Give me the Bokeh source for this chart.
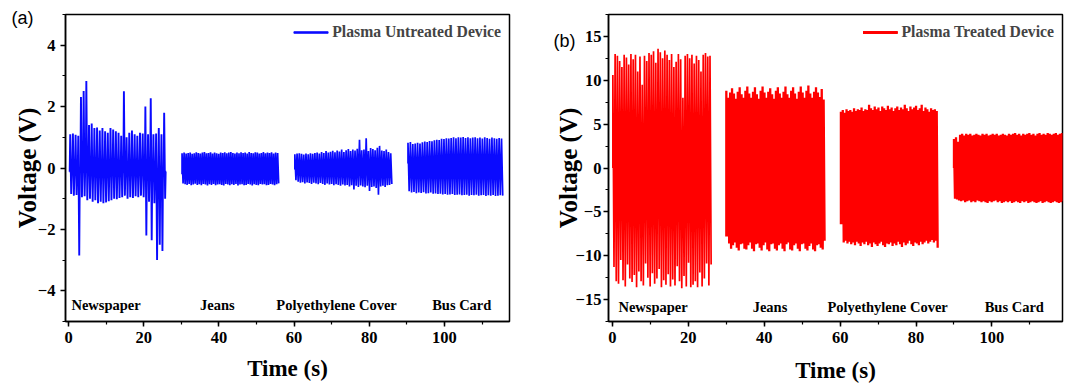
import numpy as np
from bokeh.plotting import figure
from bokeh.layouts import row
from bokeh.models import Range1d, SingleIntervalTicker, FixedTicker, LinearAxis, ColumnDataSource
from bokeh.core.properties import value
from bokeh.embed import file_html
from bokeh.resources import INLINE

# ---------------- data ----------------
materials = ["Newspaper", "Jeans", "Polyethylene Cover", "Bus Card"]

# (a) plasma untreated device: segment time windows (s), start level and per-pulse peaks (V)
untreated_t_start = [0.3, 30.2, 60.2, 90.3]
untreated_t_end = [26.0, 55.9, 86.0, 115.5]
untreated_base = [-0.12, -0.20, -0.05, 0.15]

untreated_news_max = [1.10, 1.12, 1.08, 1.05, 2.31, 2.51, 2.83, 1.40, 1.45, 1.30, 1.32, 1.22,
                      1.30, 1.20, 1.15, 1.30, 1.25, 1.20, 1.15, 1.05, 2.50, 1.00, 1.15, 1.22,
                      1.10, 1.05, 1.15, 1.12, 2.00, 1.10, 2.27, 1.10, 1.12, 1.30, 1.10, 1.80]
untreated_news_min = [-0.85, -0.90, -0.88, -2.85, -0.95, -0.92, -1.05, -1.00, -1.10, -1.05, -1.15, -1.10,
                      -1.15, -1.12, -1.08, -1.05, -1.00, -1.02, -0.98, -0.95, -0.90, -1.00, -0.95, -0.98,
                      -0.92, -0.95, -0.90, -0.95, -2.20, -1.10, -2.35, -1.15, -3.00, -2.50, -2.70, -1.00]

untreated_jeans_max = [0.48, 0.50, 0.47, 0.49, 0.50, 0.46, 0.48, 0.51, 0.49, 0.47, 0.50, 0.52,
                       0.48, 0.49, 0.51, 0.47, 0.50, 0.48, 0.46, 0.50, 0.49, 0.51, 0.48, 0.50,
                       0.52, 0.49, 0.47, 0.50, 0.48, 0.51, 0.49, 0.50, 0.47, 0.52, 0.49, 0.48,
                       0.51, 0.50, 0.47, 0.49, 0.52, 0.48, 0.50, 0.49, 0.51, 0.47, 0.50, 0.49]
untreated_jeans_min = [-0.50, -0.53, -0.55, -0.52, -0.56, -0.54, -0.51, -0.55, -0.53, -0.56, -0.52, -0.54,
                       -0.57, -0.53, -0.55, -0.52, -0.56, -0.54, -0.53, -0.55, -0.57, -0.52, -0.54, -0.56,
                       -0.53, -0.55, -0.52, -0.57, -0.54, -0.53, -0.56, -0.55, -0.52, -0.54, -0.57, -0.53,
                       -0.55, -0.56, -0.52, -0.54, -0.53, -0.56, -0.55, -0.52, -0.54, -0.56, -0.53, -0.50]

untreated_pe_max = [0.45, 0.47, 0.48, 0.46, 0.44, 0.47, 0.45, 0.48, 0.46, 0.49,
                    0.50, 0.47, 0.52, 0.49, 0.55, 0.50, 0.53, 0.56, 0.51, 0.57,
                    0.54, 0.60, 0.52, 0.58, 0.62, 0.55, 0.60, 0.57, 0.63, 0.92,
                    0.58, 0.60, 0.97, 0.55, 0.65, 0.62, 0.58, 0.66, 0.72, 0.57,
                    0.55, 0.60, 0.52, 0.48]
untreated_pe_min = [-0.40, -0.45, -0.48, -0.46, -0.50, -0.47, -0.49, -0.52, -0.48, -0.50,
                    -0.53, -0.49, -0.52, -0.55, -0.50, -0.54, -0.52, -0.56, -0.53, -0.55,
                    -0.58, -0.54, -0.57, -0.55, -0.60, -0.56, -0.70, -0.58, -0.62, -0.57,
                    -0.60, -0.63, -0.58, -0.75, -0.62, -0.60, -0.65, -0.87, -0.60, -0.58,
                    -0.62, -0.56, -0.55, -0.52]

untreated_bus_max = [0.82, 0.85, 0.78, 0.80, 0.82, 0.80, 0.84, 0.86, 0.85, 0.88,
                     0.87, 0.90, 0.92, 0.91, 0.95, 0.94, 0.97, 0.96, 0.98, 1.00,
                     0.97, 1.00, 0.99, 1.01, 0.98, 1.00, 0.97, 0.99, 1.00, 0.97,
                     0.99, 0.96, 1.00, 0.98, 0.95, 0.99, 0.97, 0.95, 0.98, 0.96]
untreated_bus_min = [-0.76, -0.80, -0.78, -0.82, -0.80, -0.81, -0.79, -0.83, -0.82, -0.80,
                     -0.84, -0.83, -0.85, -0.84, -0.86, -0.85, -0.87, -0.86, -0.85, -0.88,
                     -0.87, -0.86, -0.89, -0.88, -0.87, -0.90, -0.88, -0.89, -0.87, -0.90,
                     -0.89, -0.88, -0.91, -0.89, -0.90, -0.88, -0.91, -0.90, -0.89, -0.90]

# (b) plasma treated device
treated_t_start = [0.1, 30.0, 60.2, 90.0]
treated_t_end = [26.0, 55.9, 85.7, 119.8]
treated_base = [0.0, -7.8, -6.4, 0.0]

treated_news_max = [10.6, 13.0, 12.8, 12.2, 11.5, 12.9, 12.6, 11.8, 13.0, 12.4, 12.9, 11.0,
                    12.7, 9.5, 12.8, 12.2, 13.1, 12.9, 13.3, 12.0, 13.6, 13.2, 12.5, 13.4,
                    12.9, 12.3, 13.0, 11.5, 12.1, 13.0, 12.4, 8.0, 12.8, 13.0, 12.5, 12.9,
                    11.9, 12.8, 12.3, 11.0, 12.9, 13.1, 12.7, 12.8]
treated_news_min = [-11.3, -12.9, -13.2, -10.5, -12.8, -13.5, -11.0, -12.6, -13.0, -12.2, -13.6, -11.8,
                    -12.9, -13.4, -10.9, -12.5, -13.5, -12.0, -13.2, -12.6, -11.5, -13.6, -12.8, -13.3,
                    -12.1, -13.5, -12.7, -13.4, -11.2, -12.9, -13.7, -12.3, -13.5, -10.8, -13.6, -13.3,
                    -12.9, -13.6, -11.9, -13.5, -12.6, -10.9, -13.4, -11.0]

treated_jeans_max = [8.8, 8.0, 8.6, 9.1, 8.5, 7.9, 8.7, 9.2, 8.4, 8.0, 8.8, 9.3, 8.5,
                     8.0, 8.7, 9.2, 8.4, 7.9, 8.8, 9.3, 8.6, 8.0, 8.7, 9.1, 8.4, 7.9,
                     8.8, 9.2, 8.5, 8.0, 8.7, 9.3, 8.4, 8.0, 8.8, 9.2, 8.5, 7.9, 8.7,
                     9.3, 8.6, 8.0, 8.8, 9.4, 8.5, 8.0, 8.7, 9.2, 8.6, 8.1, 9.0, 7.8]
treated_jeans_min = [-7.8, -8.6, -9.2, -8.8, -8.5, -9.1, -9.4, -8.7, -8.6, -9.2, -9.3, -8.8, -8.5,
                     -9.2, -9.5, -8.7, -8.6, -9.1, -9.4, -8.8, -8.5, -9.3, -9.5, -8.7, -8.6, -9.2,
                     -9.4, -8.8, -8.6, -9.2, -9.5, -8.7, -8.5, -9.3, -9.4, -8.8, -8.6, -9.2, -9.5,
                     -8.7, -8.6, -9.2, -9.4, -8.9, -8.6, -9.3, -9.5, -8.8, -8.7, -9.1, -9.3, -8.3]

treated_pe_max = [6.4, 6.6, 6.3, 6.7, 6.5, 6.6, 6.4, 6.8, 6.5, 6.7, 6.6, 6.9, 6.5,
                  6.7, 6.6, 7.2, 6.8, 6.6, 7.0, 6.7, 6.9, 6.5, 7.0, 6.8, 6.6, 7.1,
                  6.7, 6.9, 6.5, 6.8, 7.0, 6.6, 6.9, 6.7, 7.2, 6.8, 6.5, 7.0, 6.7,
                  6.9, 7.1, 6.6, 6.8, 7.2, 6.5, 6.9, 6.7, 6.4, 6.8, 6.6, 6.7, 6.5]
treated_pe_min = [-6.4, -8.5, -8.3, -8.6, -8.4, -8.7, -8.5, -8.8, -8.4, -8.6, -8.9, -8.5, -8.7,
                  -8.4, -8.8, -8.6, -9.0, -8.5, -8.7, -8.9, -8.6, -8.4, -8.8, -9.0, -8.6, -8.7,
                  -8.5, -8.9, -8.6, -8.8, -8.4, -8.7, -9.0, -8.5, -8.8, -8.6, -8.3, -8.7, -8.9,
                  -8.5, -8.6, -8.8, -8.4, -8.7, -8.5, -8.3, -8.6, -8.4, -8.2, -8.5, -8.3, -9.1]

treated_bus_max = [3.3, 3.5, 3.0, 3.8, 3.9, 3.7, 3.9, 3.8, 3.9, 3.7, 3.8, 3.9, 3.8, 3.7,
                   3.9, 3.8, 3.9, 3.7, 3.8, 3.9, 3.8, 3.9, 3.7, 3.8, 3.9, 3.8, 3.7, 3.9,
                   3.8, 3.9, 4.0, 3.8, 3.9, 3.7, 3.9, 3.8, 3.9, 4.0, 3.8, 3.9, 3.7, 3.9,
                   4.0, 3.8, 3.9, 3.8, 4.0, 3.9, 3.8, 3.9, 4.0, 3.8, 3.9, 4.0, 3.9, 3.8]
treated_bus_min = [-3.5, -3.6, -3.7, -3.8, -3.7, -3.9, -3.8, -3.7, -3.9, -3.8, -3.9, -3.7, -3.8, -3.9,
                   -3.8, -3.9, -4.0, -3.8, -3.9, -3.8, -3.7, -3.9, -3.8, -4.0, -3.9, -3.8, -3.9, -3.8,
                   -4.0, -3.9, -3.8, -3.9, -4.0, -3.8, -3.9, -3.8, -4.0, -3.9, -3.8, -3.9, -4.0, -3.9,
                   -3.8, -4.0, -3.9, -3.8, -3.9, -4.0, -3.9, -3.8, -3.9, -4.0, -3.9, -3.8, -3.9, -4.0]

untreated_max = [untreated_news_max, untreated_jeans_max, untreated_pe_max, untreated_bus_max]
untreated_min = [untreated_news_min, untreated_jeans_min, untreated_pe_min, untreated_bus_min]
treated_max = [treated_news_max, treated_jeans_max, treated_pe_max, treated_bus_max]
treated_min = [treated_news_min, treated_jeans_min, treated_pe_min, treated_bus_min]

# material label positions (annotations)
untreated_label_x = [10.0, 39.6, 71.3, 104.6]
untreated_label_y = -4.45
treated_label_x = [10.7, 41.5, 72.5, 105.9]
treated_label_y = -15.8

SERIF = "Liberation Serif"


def pulse_train(t0, t1, base, vmax, vmin, spiky):
    pairs = list(zip(vmax, vmin))
    n = len(pairs)
    xs, ys = [t0], [base]
    if spiky:
        d = (t1 - t0) / n
        for i, (hi, lo) in enumerate(pairs):
            t = t0 + i * d
            xs += [t + 0.02 * d, t + 0.22 * d, t + 0.58 * d, t + 0.78 * d]
            ys += [base, hi, lo, base]
        xs.append(t1)
        ys.append(base)
    else:
        tt = np.linspace(t0, t1, 2 * n)
        for i, (hi, lo) in enumerate(pairs):
            xs += [tt[2 * i], tt[2 * i + 1]]
            ys += [hi, lo]
    return xs, ys


def style(p, y_interval, tick_standoff, title_standoff, x_title_standoff):
    p.xaxis.ticker = SingleIntervalTicker(interval=20, num_minor_ticks=2)
    p.yaxis.ticker = SingleIntervalTicker(interval=y_interval, num_minor_ticks=2)
    p.xgrid.visible = False
    p.ygrid.visible = False
    p.outline_line_color = "black"
    p.outline_line_width = 1.5
    p.outline_line_alpha = 1
    for ax in (p.xaxis[0], p.yaxis[0]):
        ax.axis_line_width = 1.5
        ax.axis_line_color = "black"
        ax.major_tick_line_width = 1.5
        ax.minor_tick_line_width = 1.2
        ax.major_tick_in = 0
        ax.major_tick_out = 5
        ax.minor_tick_in = 0
        ax.minor_tick_out = 3
        ax.major_label_text_font = SERIF
        ax.major_label_text_font_style = "bold"
        ax.major_label_text_font_size = "16.5px"
        ax.major_label_text_color = "black"
        ax.axis_label_text_font = SERIF
        ax.axis_label_text_font_style = "bold"
        ax.axis_label_text_color = "black"
    p.xaxis.axis_label = "Time (s)"
    p.xaxis.axis_label_text_font_size = "23px"
    p.xaxis.major_label_standoff = 5
    p.xaxis.axis_label_standoff = x_title_standoff
    p.yaxis.axis_label = "Voltage (V)"
    p.yaxis.axis_label_text_font_size = "25px"
    p.yaxis.major_label_standoff = tick_standoff
    p.yaxis.axis_label_standoff = title_standoff


def panel_tag(p, y, text, standoff):
    # a tick-less axis carrying the panel letter, stacked outside the voltage axis
    ax = LinearAxis(ticker=FixedTicker(ticks=[y]), major_label_overrides={y: text},
                    axis_line_alpha=0, major_tick_line_alpha=0, minor_tick_line_alpha=0,
                    major_tick_in=0, major_tick_out=0, minor_tick_in=0, minor_tick_out=0,
                    major_label_standoff=standoff, major_label_text_font="Liberation Sans",
                    major_label_text_font_size="18px", major_label_text_color="black")
    p.add_layout(ax, "left")


def legend_style(p):
    lg = p.legend[0]
    lg.location = "top_right"
    lg.border_line_alpha = 0
    lg.background_fill_alpha = 0
    lg.label_text_font = SERIF
    lg.label_text_font_style = "bold"
    lg.label_text_font_size = "15.7px"
    lg.glyph_width = 35
    lg.label_standoff = 4
    lg.margin = 4
    lg.padding = 4
    lg.spacing = 0


# ---------------- panel (a) ----------------
pa = figure(width=535, height=386, output_backend="svg", toolbar_location=None,
            x_range=Range1d(-0.8, 117.3), y_range=Range1d(-5, 5),
            min_border_left=65, min_border_right=26, min_border_top=14, min_border_bottom=63)
style(pa, 2, 5, -6, 10)

for k in range(4):
    xs, ys = pulse_train(untreated_t_start[k], untreated_t_end[k], untreated_base[k],
                         untreated_max[k], untreated_min[k], spiky=(k == 0))
    pa.line(xs, ys, line_color="#0a0aff", line_width=(1.9 if k == 0 else 1.7),
            legend_label="Plasma Untreated Device")

src_a = ColumnDataSource(dict(x=untreated_label_x, y=[untreated_label_y] * 4, t=materials))
pa.text(x="x", y="y", text="t", source=src_a, text_font=value(SERIF), text_font_style="bold",
        text_font_size="14.5px", text_align="center", text_baseline="middle", text_color="black")
panel_tag(pa, 4.87, "(a)", -23)
legend_style(pa)

# ---------------- panel (b) ----------------
pb = figure(width=529, height=386, output_backend="svg", toolbar_location=None,
            x_range=Range1d(-1.05, 118.6), y_range=Range1d(-17.5, 17.5),
            min_border_left=73, min_border_right=2, min_border_top=10, min_border_bottom=65)
style(pb, 5, 2, -9, 12)

for k in range(4):
    xs, ys = pulse_train(treated_t_start[k], treated_t_end[k], treated_base[k],
                         treated_max[k], treated_min[k], spiky=False)
    pb.line(xs, ys, line_color="#ff0000", line_width=(1.7 if k == 0 else 2.3),
            legend_label="Plasma Treated Device")

src_b = ColumnDataSource(dict(x=treated_label_x, y=[treated_label_y] * 4, t=materials))
pb.text(x="x", y="y", text="t", source=src_b, text_font=value(SERIF), text_font_style="bold",
        text_font_size="14.5px", text_align="center", text_baseline="middle", text_color="black")
panel_tag(pb, 14.5, "(b)", -24)
legend_style(pb)

layout = row(pa, pb)
open("out.html", "w").write(file_html(layout, INLINE))
